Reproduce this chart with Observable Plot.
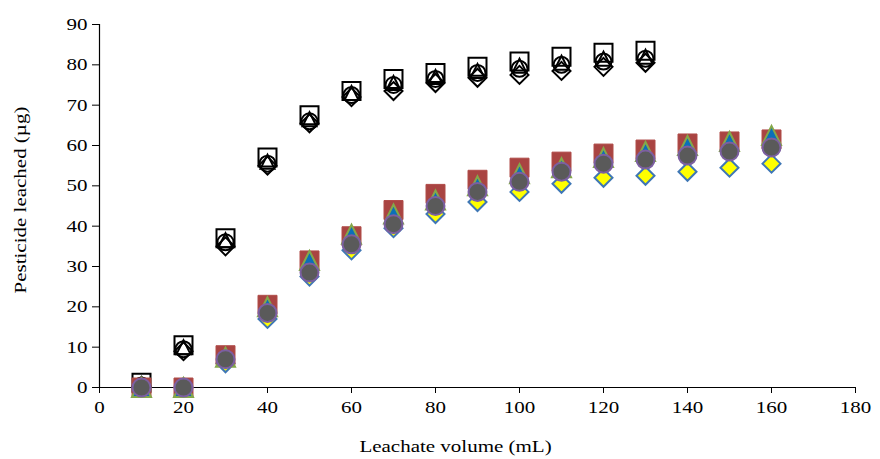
<!DOCTYPE html>
<html>
<head>
<meta charset="utf-8">
<script src="https://cdn.jsdelivr.net/npm/d3@7"></script>
<script src="https://cdn.jsdelivr.net/npm/@observablehq/plot@0.6"></script>
<style>
  html, body { margin: 0; padding: 0; background: #fff; }
  #chart svg { display: block; }
</style>
</head>
<body>
<div id="chart"></div>
<script>
// ---- data ----
const xTicks = [0, 20, 40, 60, 80, 100, 120, 140, 160, 180];
const yTicks = [0, 10, 20, 30, 40, 50, 60, 70, 80, 90];

const volumesOpen = [10, 20, 30, 40, 50, 60, 70, 80, 90, 100, 110, 120, 130];
const openSquare   = [1.2, 10.5, 37.0, 57.0, 67.5, 73.5, 76.5, 78.0, 79.5, 80.8, 82.0, 83.0, 83.5];
const openTriangle = [0.8, 10.0, 36.5, 56.0, 66.5, 73.0, 75.5, 77.0, 78.5, 79.8, 80.5, 81.5, 82.0];
const openCircle   = [0.5, 9.5, 36.0, 55.5, 66.0, 72.5, 75.0, 76.5, 78.0, 79.0, 80.0, 80.8, 81.5];
const openDiamond  = [0.3, 9.0, 35.0, 55.0, 65.5, 72.0, 73.5, 75.5, 76.8, 77.5, 78.5, 79.5, 80.5];

const volumesFilled = [10, 20, 30, 40, 50, 60, 70, 80, 90, 100, 110, 120, 130, 140, 150, 160];
const filledDiamond  = [0, 0, 6.0, 17.0, 27.5, 34.0, 39.5, 43.0, 46.0, 48.5, 50.5, 52.0, 52.5, 53.5, 54.5, 55.5];
const filledSquare   = [0, 0, 8.0, 20.5, 31.5, 37.5, 44.0, 48.0, 51.5, 54.5, 56.0, 58.0, 59.0, 60.5, 61.0, 61.5];
const filledTriangle = [0, 0, 7.5, 20.0, 31.5, 38.0, 43.0, 46.5, 50.0, 53.0, 54.5, 57.0, 58.5, 60.0, 61.0, 62.5];
const filledCircle   = [0, 0, 7.0, 18.5, 28.5, 35.5, 40.5, 45.0, 48.5, 51.0, 53.5, 55.5, 56.5, 57.5, 58.5, 59.5];

// ---- Excel-like marker shapes (half-width = r) ----
const half = size => Math.sqrt(size / Math.PI);
const mSquare = {draw(c, s) { const h = half(s); c.rect(-h, -h, 2 * h, 2 * h); }};
const mCircle = {draw(c, s) { const h = half(s); c.moveTo(h, 0); c.arc(0, 0, h, 0, 2 * Math.PI); }};
const mTriangle = {draw(c, s) { const h = half(s); c.moveTo(0, -h); c.lineTo(h, h); c.lineTo(-h, h); c.closePath(); }};
const mDiamond = {draw(c, s) { const h = half(s); c.moveTo(0, -h); c.lineTo(h, 0); c.lineTo(0, h); c.lineTo(-h, 0); c.closePath(); }};

const rows = (xs, ys) => xs.map((x, i) => ({x, y: ys[i]}));

const font = "'Liberation Serif', 'Times New Roman', serif";

const chart = Plot.plot({
  width: 880,
  height: 459,
  marginLeft: 99,
  marginRight: 25,
  marginTop: 24,
  marginBottom: 72,
  style: {fontFamily: font, fontSize: "17.5px", color: "#000", background: "#fff"},
  x: {domain: [0, 180]},
  y: {domain: [0, 90]},
  marks: [
    Plot.axisX({ticks: xTicks, tickSize: 6, tickPadding: 7, label: "Leachate volume (mL)", labelAnchor: "center", labelOffset: 64, labelArrow: "none"}),
    Plot.axisY({ticks: yTicks, tickSize: 7, tickPadding: 5, label: "Pesticide leached (µg)", labelAnchor: "center", labelOffset: 86, labelArrow: "none"}),
    Plot.ruleX([0], {stroke: "#000", strokeWidth: 1.2}),
    Plot.ruleY([0], {stroke: "#000", strokeWidth: 1.2}),
    // open (black outline) series
    Plot.dot(rows(volumesOpen, openSquare),   {x: "x", y: "y", symbol: mSquare,   r: 9,   fill: "none", stroke: "#000", strokeWidth: 2}),
    Plot.dot(rows(volumesOpen, openTriangle), {x: "x", y: "y", symbol: mTriangle, r: 7,   fill: "none", stroke: "#000", strokeWidth: 2}),
    Plot.dot(rows(volumesOpen, openCircle),   {x: "x", y: "y", symbol: mCircle,   r: 8,   fill: "none", stroke: "#000", strokeWidth: 2}),
    Plot.dot(rows(volumesOpen, openDiamond),  {x: "x", y: "y", symbol: mDiamond,  r: 9,   fill: "none", stroke: "#000", strokeWidth: 2}),
    // filled series
    Plot.dot(rows(volumesFilled, filledDiamond),  {x: "x", y: "y", symbol: mDiamond,  r: 9,   fill: "#FFFF00", stroke: "#3F77B5", strokeWidth: 2}),
    Plot.dot(rows(volumesFilled, filledSquare),   {x: "x", y: "y", symbol: mSquare,   r: 9.5, fill: "#A94442", stroke: "#B04C49", strokeWidth: 1}),
    Plot.dot(rows(volumesFilled, filledTriangle), {x: "x", y: "y", symbol: mTriangle, r: 9.5, fill: "#0B6FB8", stroke: "#84A84A", strokeWidth: 2}),
    Plot.dot(rows(volumesFilled, filledCircle),   {x: "x", y: "y", symbol: mCircle,   r: 9,   fill: "#5A5A5A", stroke: "#7C5FA1", strokeWidth: 2})
  ]
});
document.getElementById("chart").appendChild(chart);

// Widen glyphs to match the reference's typeface proportions, and nudge axis titles.
const svg = d3.select(chart.tagName === "svg" ? chart : chart.querySelector("svg"));
svg.selectAll("text").each(function () {
  const t = this.getAttribute("transform") || "";
  this.setAttribute("transform", t + " scale(1.2,1)");
  this.setAttribute("font-size", "17.5");
});
function nudge(sel, dx, dy) {
  svg.selectAll(sel).each(function () {
    const t = this.getAttribute("transform") || "";
    this.setAttribute("transform", `translate(${dx},${dy}) ` + t);
  });
}
nudge("g[aria-label='x-axis label']", -22, 0);
nudge("g[aria-label='y-axis label']", 0, -6);
</script>
</body>
</html>
